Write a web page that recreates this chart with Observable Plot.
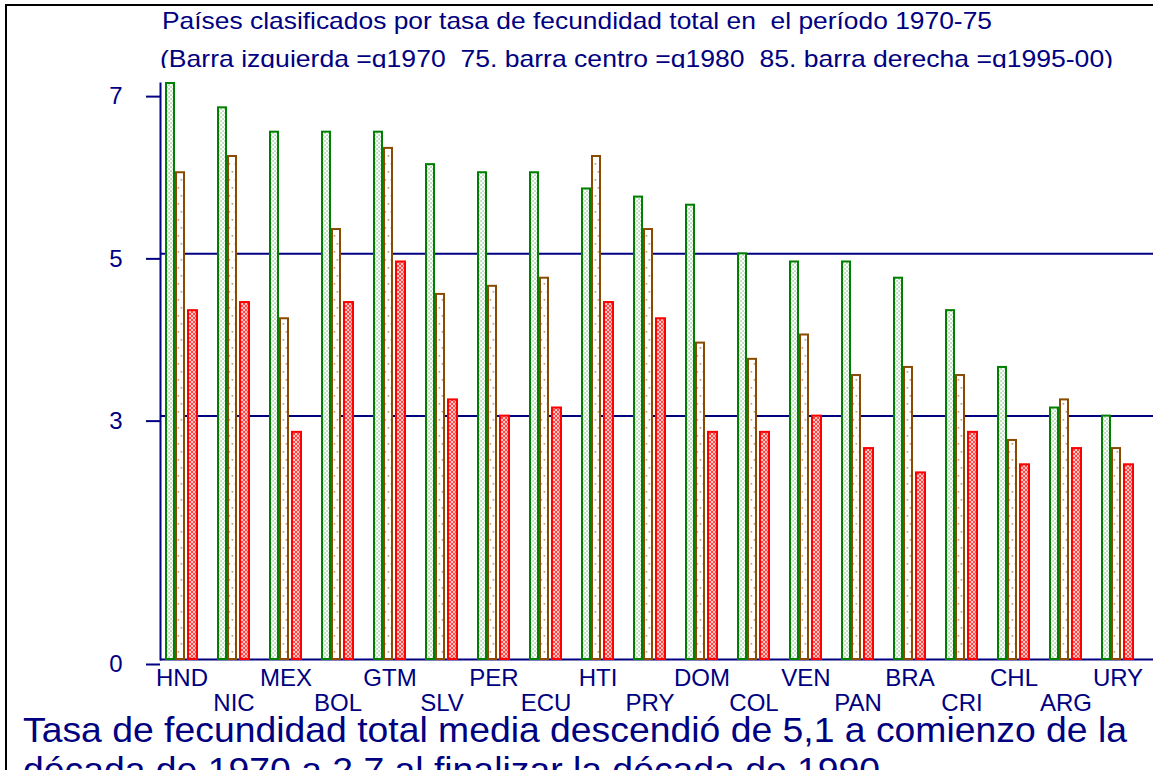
<!DOCTYPE html>
<html>
<head>
<meta charset="utf-8">
<script src="https://cdn.jsdelivr.net/npm/d3@7"></script>
<script src="https://cdn.jsdelivr.net/npm/@observablehq/plot@0.6"></script>
<style>
  html, body { margin: 0; padding: 0; background: white; }
  #root { position: relative; width: 1153px; height: 770px; overflow: hidden; background: white;
          font-family: "Liberation Sans", Arial, sans-serif; color: #000080; }
  #chart { position: absolute; left: 0; top: 0; }
  .frame { position: absolute; left: 5px; top: 4px; width: 2000px; height: 2000px;
           border-left: 2.5px solid #000; border-top: 2.5px solid #000; }
  .line { position: absolute; white-space: pre; display: inline-block; transform-origin: 0 0; line-height: 1; }
  #t1 { left: 162px; top: 9px; font-size: 24px; }
  #t2clip { position: absolute; left: 0; top: 40px; width: 1153px; height: 28.3px; overflow: hidden; }
  #t2 { left: 160px; top: 6.7px; font-size: 24px; }
  .cap { left: 22.5px; font-size: 35px; }
</style>
</head>
<body>
<svg width="0" height="0" style="position:absolute">
  <defs>
    <pattern id="patGreen" width="4" height="4" patternUnits="userSpaceOnUse">
      <rect width="4" height="4" fill="white"/>
      <rect x="0.4" y="0.4" width="1.3" height="1.3" fill="#6fb86f"/>
      <rect x="2.4" y="2.4" width="1.3" height="1.3" fill="#6fb86f"/>
    </pattern>
    <pattern id="patBrown" width="6" height="16" patternUnits="userSpaceOnUse">
      <rect width="6" height="16" fill="white"/>
      <rect x="0.6" y="3" width="1.6" height="1.6" fill="#c49a72"/>
      <rect x="3.6" y="11" width="1.6" height="1.6" fill="#c49a72"/>
    </pattern>
    <pattern id="patRed" width="4" height="4" patternUnits="userSpaceOnUse">
      <rect width="4" height="4" fill="#ffc4c4"/>
      <path d="M0,0L4,4M4,0L0,4" stroke="#ff3a3a" stroke-width="0.9"/>
    </pattern>
  </defs>
</svg>
<div id="root">
  <div id="chart"></div>
  <div class="frame"></div>
  <div id="t1" class="line"></div>
  <div id="t2clip"><div id="t2" class="line"></div></div>
  <div id="cap1" class="line cap" style="top:711.6px"></div>
  <div id="cap2" class="line cap" style="top:752.1px"></div>
</div>
<script>
// ---- data ----
const countries = ["HND","NIC","MEX","BOL","GTM","SLV","PER","ECU","HTI","PRY","DOM","COL","VEN","PAN","BRA","CRI","CHL","ARG","URY"];
const tfr1970_75 = [7.1,6.8,6.5,6.5,6.5,6.1,6.0,6.0,5.8,5.7,5.6,5.0,4.9,4.9,4.7,4.3,3.6,3.1,3.0];
const tfr1980_85 = [6.0,6.2,4.2,5.3,6.3,4.5,4.6,4.7,6.2,5.3,3.9,3.7,4.0,3.5,3.6,3.5,2.7,3.2,2.6];
const tfr1995_00 = [4.3,4.4,2.8,4.4,4.9,3.2,3.0,3.1,4.4,4.2,2.8,2.8,3.0,2.6,2.3,2.8,2.4,2.6,2.4];
const yTicks = [0, 3, 5, 7];
const gridTicks = [0, 3, 5];
const titleLine1 = "Países clasificados por tasa de fecundidad total en  el período 1970-75";
const titleLine2 = "(Barra izquierda =q1970  75. barra centro =q1980  85. barra derecha =q1995-00)";
const captionLine1 = "Tasa de fecundidad total media descendió de 5,1 a comienzo de la";
const captionLine2 = "década de 1970 a 2,7 al finalizar la década de 1990";

// ---- build table ----
const rows = countries.map((c, i) => ({country: c, a: tfr1970_75[i], b: tfr1980_85[i], c: tfr1995_00[i]}));
const rowTicks = countries.filter((d, i) => i % 2 === 0);
const rowTicks2 = countries.filter((d, i) => i % 2 === 1);

const navy = "#000080";
const font = "'Liberation Sans', Arial, sans-serif";

const chart = Plot.plot({
  width: 1153,
  height: 720,
  marginLeft: 160,
  marginRight: 0,
  marginTop: 83,
  marginBottom: 61,
  style: {background: "transparent", fontFamily: font, color: navy, overflow: "visible"},
  x: {type: "band", domain: countries, padding: 0, insetLeft: 4, axis: null},
  y: {domain: [0, 7.1], axis: null},
  marks: [
    Plot.gridY({ticks: gridTicks, stroke: navy, strokeOpacity: 1, strokeWidth: 2}),
    Plot.barY(rows, {x: "country", y: "a", fill: "url(#patGreen)", stroke: "#008000", strokeWidth: 2, insetLeft: 1, insetRight: 43}),
    Plot.barY(rows, {x: "country", y: "b", fill: "url(#patBrown)", stroke: "#8a4a00", strokeWidth: 2, insetLeft: 11, insetRight: 33}),
    Plot.barY(rows, {x: "country", y: "c", fill: "url(#patRed)", stroke: "#ff0000", strokeWidth: 2, insetLeft: 23, insetRight: 20}),
    Plot.frame({anchor: "left", stroke: navy, strokeWidth: 2}),
    Plot.axisY({ticks: yTicks, tickSize: 14, tickPadding: 24, stroke: navy, strokeWidth: 2, fill: navy, fontSize: 24, dy: 5, label: null, tickFormat: d => String(d)}),
    Plot.axisX({ticks: rowTicks, tickSize: 0, tickPadding: 9, fill: navy, fontSize: 24, dx: -9.5, label: null}),
    Plot.axisX({ticks: rowTicks2, tickSize: 0, tickPadding: 34, fill: navy, fontSize: 24, dx: -9.5, label: null})
  ]
});
document.getElementById("chart").appendChild(chart);

// ---- texts ----
function fit(el, text, target) {
  el.textContent = text;
  const w = el.getBoundingClientRect().width;
  const k = target / w;
  el.style.transform = `scaleX(${k})`;
  return k;
}
fit(document.getElementById("t1"), titleLine1, 830);
fit(document.getElementById("t2"), titleLine2, 953);
const k = fit(document.getElementById("cap1"), captionLine1, 1104);
const c2 = document.getElementById("cap2");
c2.textContent = captionLine2;
c2.style.transform = `scaleX(${k})`;
</script>
</body>
</html>
